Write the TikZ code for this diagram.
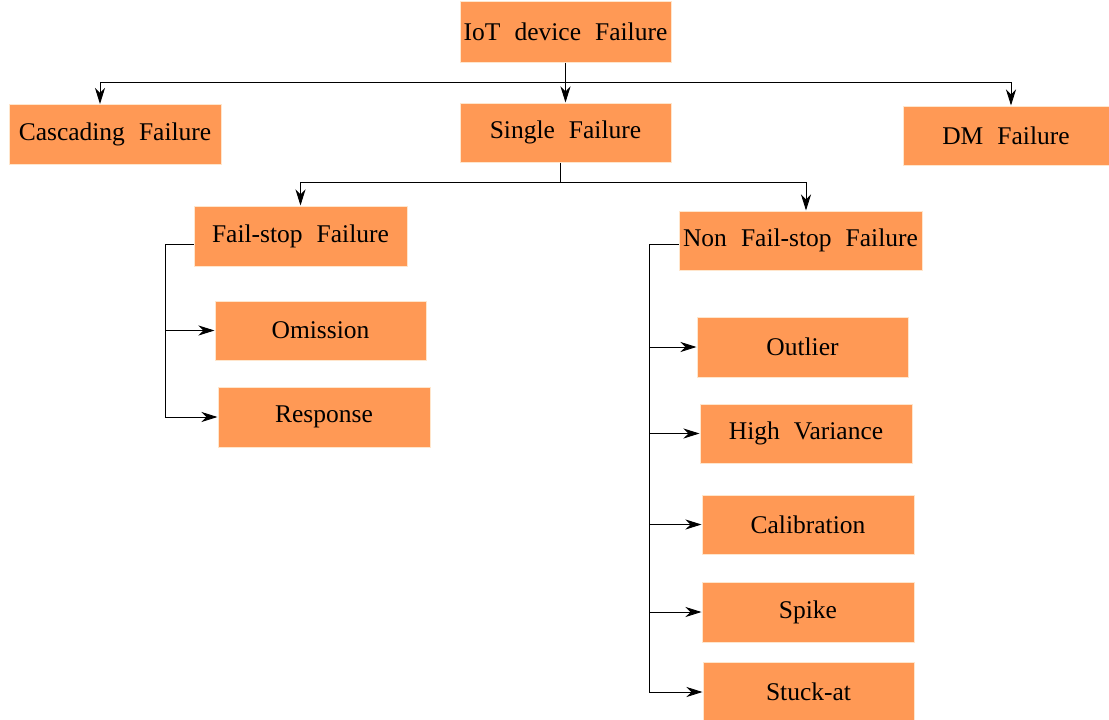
\documentclass[tikz,border=0pt]{standalone}
\usepackage{fontspec}
\setmainfont{Liberation Serif}
\usetikzlibrary{arrows.meta}
\definecolor{boxorange}{HTML}{FF9955}
\definecolor{boxedge}{HTML}{FFE6CC}
\tikzset{
  box/.style={rectangle, fill=boxorange, draw=boxedge, line width=1pt, inner sep=0pt,
    minimum width=211pt, minimum height=59pt,
    font={\fontsize{25.5}{30}\selectfont\spaceskip=0.55em\relax}},
  conn/.style={line width=0.9pt, draw=black},
  arr/.style={conn, -{Stealth[length=16pt,width=10pt,inset=5pt]}}
}
\begin{document}
\begin{tikzpicture}[x=1pt,y=-1pt]
\useasboundingbox (0,0) rectangle (1109,720);
\node[box, minimum width=211pt, minimum height=61pt] (iot) at (565.5,31.5) {IoT device Failure};
\node[box, minimum width=212pt, minimum height=60pt] (casc) at (115,134.5) {Cascading Failure};
\node[box] (single) at (565.5,132.5) {Single Failure};
\node[box, minimum width=206pt] (dm) at (1006,135.5) {DM Failure};
\node[box, minimum width=213pt, minimum height=60pt] (fs) at (300.5,236) {Fail-stop Failure};
\node[box, minimum width=243pt] (nfs) at (800.5,240.5) {Non Fail-stop Failure};
\node[box] (omi) at (320.5,330.5) {Omission};
\node[box, minimum width=212pt, minimum height=60pt] (resp) at (324,417) {Response};
\node[box, minimum height=60pt] (outl) at (802.5,347) {Outlier};
\node[box, minimum width=212pt] (hv) at (806,433.5) {High Variance};
\node[box, minimum width=212pt] (cal) at (808,524.5) {Calibration};
\node[box, minimum width=212pt, minimum height=60pt] (spike) at (808,612) {Spike};
\node[box, minimum height=60pt] (stuck) at (808.5,692) {Stuck-at};
% top level
\coordinate (j1) at (565.5,82);
\draw[arr] (iot.south) -- (single.north);
\draw[arr] (j1) -| ([xshift=-15pt]casc.north);
\draw[arr] (j1) -| ([xshift=5pt]dm.north);
% single level
\coordinate (j2) at (560,182);
\draw[conn] ([xshift=-5.5pt]single.south) -- (j2);
\draw[arr] (j2) -| (fs.north);
\draw[arr] (j2) -| ([xshift=5.5pt]nfs.north);
% fail-stop branch
\coordinate (fsbus) at (165,244);
\draw[arr] ([yshift=-8pt]fs.west) -- (fsbus) |- (resp.west);
\draw[arr] (fsbus |- omi.west) -- (omi.west);
% non fail-stop branch
\coordinate (nbus) at (649,244);
\draw[arr] ([yshift=-3.5pt]nfs.west) -- (nbus) |- (stuck.west);
\draw[arr] (nbus |- outl.west) -- (outl.west);
\draw[arr] (nbus |- hv.west) -- (hv.west);
\draw[arr] (nbus |- cal.west) -- (cal.west);
\draw[arr] (nbus |- spike.west) -- (spike.west);
\end{tikzpicture}
\end{document}
